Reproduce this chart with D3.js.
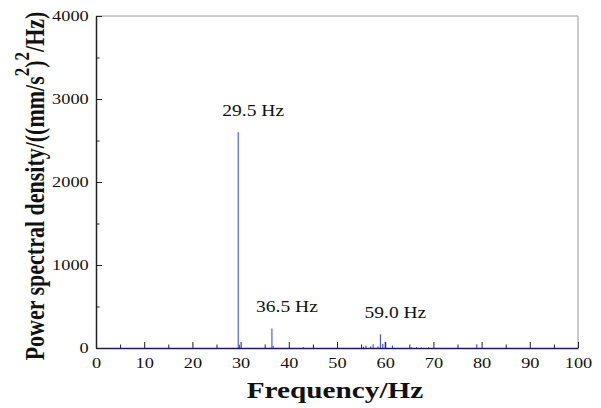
<!DOCTYPE html>
<html>
<head>
<meta charset="utf-8">
<script src="https://cdn.jsdelivr.net/npm/d3@7"></script>
<style>
  html, body { margin: 0; padding: 0; background: #fff; }
  svg { display: block; }
  text { font-family: "Liberation Serif", "DejaVu Serif", serif; fill: #111; }
</style>
</head>
<body>
<div id="chart"></div>
<script>
// ---- data ----
const freqs = [29.5, 29.75, 36.5, 36.75, 43, 55.5, 56, 57, 57.5, 58.5, 59, 59.5, 60, 61.5, 65.5, 66.5, 67.5, 69, 79];
const psd   = [2600, 40,   235,  25,    10, 15,   30, 20, 45,   20,   165, 50,  75, 30,   8,    10,   8,    8,  45];

const xMajorTicks = [0, 10, 20, 30, 40, 50, 60, 70, 80, 90, 100];
const xMinorTicks = [5, 15, 25, 35, 45, 55, 65, 75, 85, 95];
const yMajorTicks = [0, 1000, 2000, 3000, 4000];
const yMinorTicks = [500, 1500, 2500, 3500];

const peakFreqs  = [29.5, 36.5, 59.0];
const peakValues = [2600, 235, 165];
const peakLabels = ["29.5 Hz", "36.5 Hz", "59.0 Hz"];

const xTitle = "Frequency/Hz";

// ---- layout ----
const W = 601, H = 408;
const m = { left: 96, right: 23, top: 16, bottom: 60 };
const SX = 1.22; // horizontal text stretch seen in the reference

const svg = d3.select("#chart").append("svg").attr("width", W).attr("height", H);

const x = d3.scaleLinear().domain([0, 100]).range([m.left, W - m.right]);
const y = d3.scaleLinear().domain([0, 4000]).range([H - m.bottom, m.top]);

// frame (top/right gray)
svg.append("path")
  .attr("d", `M${x(0)},${y(4000)}H${x(100)}V${y(0)}`)
  .attr("fill", "none").attr("stroke", "#9a9a9a").attr("stroke-width", 1);

// data stems
const pts = freqs.map((f, i) => ({ f, v: psd[i] }));
svg.append("g").selectAll("line").data(pts).join("line")
  .attr("x1", d => x(d.f)).attr("x2", d => x(d.f))
  .attr("y1", y(0)).attr("y2", d => y(d.v))
  .attr("stroke", "#2a3cff").attr("stroke-width", 1);

// minor ticks
svg.append("g").attr("transform", `translate(0,${y(0)})`)
  .call(d3.axisBottom(x).tickValues(xMinorTicks).tickSize(-3.5).tickSizeOuter(0).tickFormat(""))
  .call(g => g.select(".domain").remove())
  .call(g => g.selectAll("line").attr("stroke", "#222"));
svg.append("g").attr("transform", `translate(${x(0)},0)`)
  .call(d3.axisLeft(y).tickValues(yMinorTicks).tickSize(-3.5).tickSizeOuter(0).tickFormat(""))
  .call(g => g.select(".domain").remove())
  .call(g => g.selectAll("line").attr("stroke", "#222"));

// major axes
const gx = svg.append("g").attr("transform", `translate(0,${y(0)})`)
  .call(d3.axisBottom(x).tickValues(xMajorTicks).tickSize(-6).tickSizeOuter(0).tickPadding(9).tickFormat(d3.format("d")));
gx.select(".domain").attr("stroke", "#1c1c55").attr("stroke-width", 1.5);
gx.selectAll(".tick line").attr("stroke", "#222");
gx.selectAll(".tick text")
  .attr("font-size", 15).attr("font-family", "Liberation Serif, serif").attr("fill", "#222")
  .attr("transform", `scale(${SX},1)`);

const gy = svg.append("g").attr("transform", `translate(${x(0)},0)`)
  .call(d3.axisLeft(y).tickValues(yMajorTicks).tickSize(-6).tickSizeOuter(0).tickPadding(6).tickFormat(d3.format("d")));
gy.select(".domain").attr("stroke", "#222").attr("stroke-width", 1.5);
gy.selectAll(".tick line").attr("stroke", "#222");
gy.selectAll(".tick text")
  .attr("font-size", 15).attr("font-family", "Liberation Serif, serif").attr("fill", "#222")
  .attr("transform", `scale(${SX},1)`);

// peak annotations
svg.append("g").selectAll("text").data(peakFreqs.map((f, i) => ({ f, v: peakValues[i], t: peakLabels[i] })))
  .join("text")
  .attr("transform", d => `translate(${x(d.f) + 15},${y(d.v) - 16}) scale(${SX},1)`)
  .attr("text-anchor", "middle").attr("font-size", 16)
  .text(d => d.t);

// x title
svg.append("text")
  .attr("transform", `translate(${(x(0) + x(100)) / 2 - 2},398) scale(${SX},1)`)
  .attr("text-anchor", "middle").attr("font-size", 24).attr("font-weight", "bold")
  .attr("fill", "#000")
  .text(xTitle);

// y title with superscripts
const yt = svg.append("text")
  .attr("transform", `translate(44,${(y(0) + y(4000)) / 2 + 4}) scale(${SX},1) rotate(-90)`)
  .attr("text-anchor", "middle").attr("font-size", 22).attr("font-weight", "bold")
  .attr("fill", "#000");
yt.append("tspan").text("Power spectral density/((mm/s");
yt.append("tspan").attr("dy", -12).attr("font-size", 17).text("2");
yt.append("tspan").attr("dy", 12).text(")");
yt.append("tspan").attr("dy", -12).attr("font-size", 17).text("2");
yt.append("tspan").attr("dy", 12).text("/Hz)");
</script>
</body>
</html>
